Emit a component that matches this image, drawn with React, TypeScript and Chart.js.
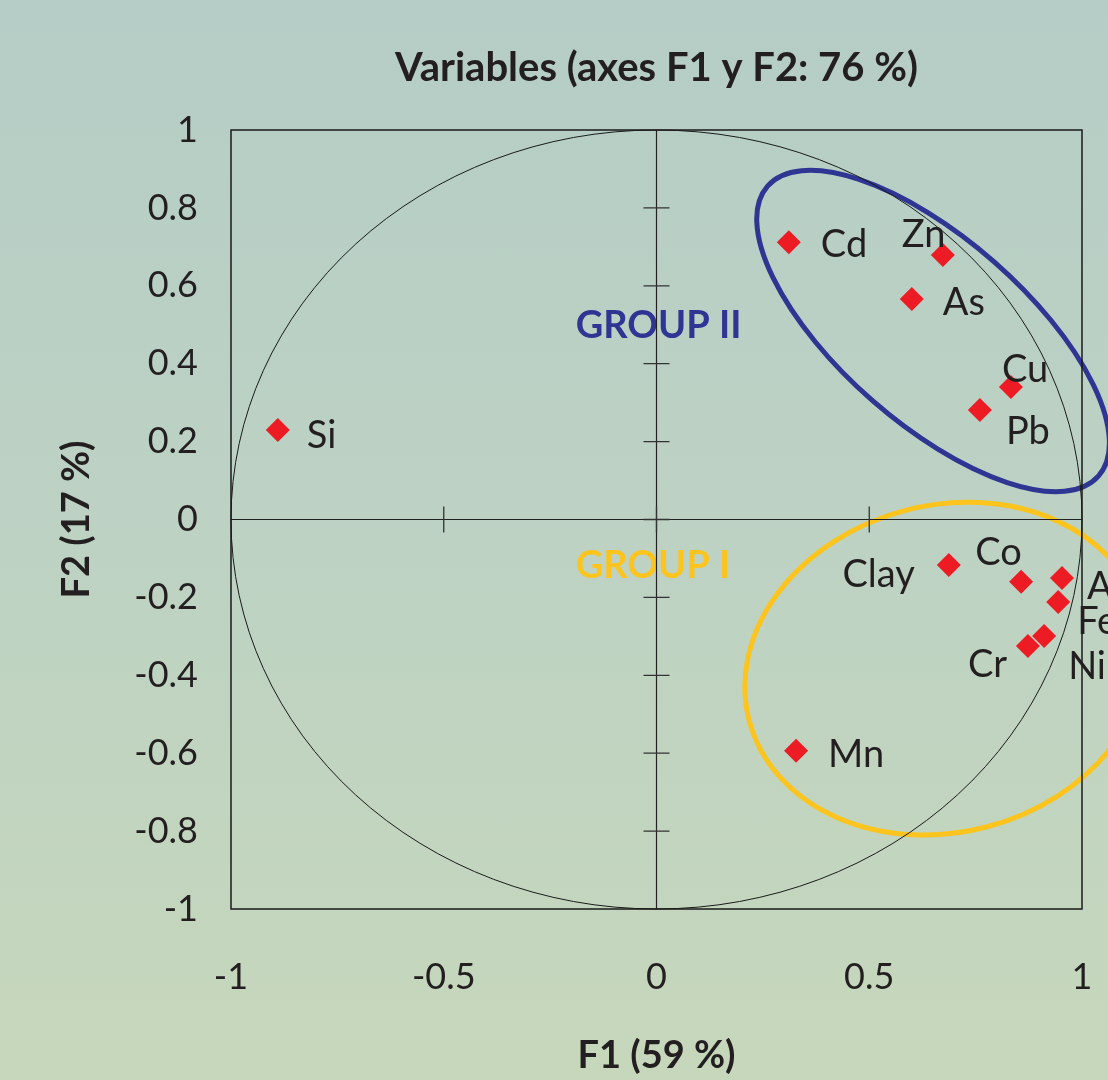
import React, { useEffect, useRef } from "react";
import { Chart, registerables } from "chart.js";

Chart.register(...registerables);

const variables = ["Si", "Cd", "Zn", "As", "Cu", "Pb", "Clay", "Co", "Al", "Fe", "Ni", "Cr", "Mn"];
const f1Values = [-0.89, 0.311, 0.673, 0.6, 0.833, 0.76, 0.687, 0.857, 0.953, 0.944, 0.911, 0.873, 0.328];
const f2Values = [0.23, 0.712, 0.679, 0.566, 0.34, 0.281, -0.117, -0.16, -0.15, -0.212, -0.299, -0.325, -0.594];
// label offsets (px) and alignment relative to each point
const labelDx = [29, 32, -41, 31, -9, 26, -34, -46, 25, 19, 24, -60, 32];
const labelDy = [6, 3, -20, 4, -17, 22, 10, -29, 9, 20, 31, 19, 4];
const labelAlign: CanvasTextAlign[] = ["left", "left", "left", "left", "left", "left", "right", "left", "left", "left", "left", "left", "left"];

const xTicks = [-1, -0.5, 0, 0.5, 1];
const yTicks = [-1, -0.8, -0.6, -0.4, -0.2, 0, 0.2, 0.4, 0.6, 0.8, 1];

const groupNames = ["GROUP II", "GROUP I"];
const groupColors = ["#2e3592", "#fcc41c"];
// group label anchor (data coords)
const groupLabelX = [-0.19, -0.19];
const groupLabelY = [0.498, -0.118];
// ellipse centers (data coords), semi-axes in x-axis data units, rotation in degrees
const ellipseCx = [0.65, 0.68];
const ellipseCy = [0.484, -0.383];
const ellipseA = [0.517, 0.478];
const ellipseB = [0.217, 0.384];
const ellipseRot = [41.2, -15];

const FONT = "Lato, 'Open Sans', sans-serif";

export default function App() {
  const ref = useRef<HTMLCanvasElement | null>(null);

  useEffect(() => {
    document.body.style.margin = "0";
    const canvas = ref.current;
    if (!canvas) return;

    const decor = {
      id: "decor",
      beforeDatasetsDraw(chart: any) {
        const { ctx, chartArea: ca, scales } = chart;
        const xs = scales.x;
        const ys = scales.y;
        const x0 = xs.getPixelForValue(0);
        const y0 = ys.getPixelForValue(0);
        const ux = xs.getPixelForValue(1) - x0;
        const uy = y0 - ys.getPixelForValue(1);
        ctx.save();
        // group labels
        ctx.font = `bold 38px ${FONT}`;
        ctx.textAlign = "left";
        ctx.textBaseline = "middle";
        for (let i = 0; i < groupNames.length; i++) {
          ctx.fillStyle = groupColors[i];
          ctx.fillText(groupNames[i], xs.getPixelForValue(groupLabelX[i]), ys.getPixelForValue(groupLabelY[i]));
        }
        // ellipses
        for (let i = 0; i < ellipseCx.length; i++) {
          ctx.beginPath();
          ctx.ellipse(
            xs.getPixelForValue(ellipseCx[i]),
            ys.getPixelForValue(ellipseCy[i]),
            ellipseA[i] * ux,
            ellipseB[i] * ux,
            (ellipseRot[i] * Math.PI) / 180,
            0,
            Math.PI * 2
          );
          ctx.strokeStyle = groupColors[i];
          ctx.lineWidth = 5;
          ctx.stroke();
        }
        // correlation circle
        ctx.beginPath();
        ctx.ellipse(x0, y0, ux, uy, 0, 0, Math.PI * 2);
        ctx.strokeStyle = "#1a1a1a";
        ctx.lineWidth = 1;
        ctx.stroke();
        // central axes
        ctx.strokeStyle = "#222";
        ctx.lineWidth = 1.2;
        ctx.beginPath();
        ctx.moveTo(ca.left, y0);
        ctx.lineTo(ca.right, y0);
        ctx.moveTo(x0, ca.top);
        ctx.lineTo(x0, ca.bottom);
        ctx.stroke();
        ctx.strokeStyle = "#333";
        ctx.lineWidth = 1.3;
        ctx.beginPath();
        for (const v of yTicks) {
          if (Math.abs(v) === 1) continue;
          const py = ys.getPixelForValue(v);
          ctx.moveTo(x0 - 13, py);
          ctx.lineTo(x0 + 13, py);
        }
        for (const v of xTicks) {
          if (Math.abs(v) === 1) continue;
          const px = xs.getPixelForValue(v);
          ctx.moveTo(px, y0 - 13);
          ctx.lineTo(px, y0 + 13);
        }
        ctx.stroke();
        // frame
        ctx.strokeStyle = "#1a1a1a";
        ctx.lineWidth = 1.5;
        ctx.strokeRect(ca.left, ca.top, ca.right - ca.left, ca.bottom - ca.top);
        ctx.restore();
      },
      afterDatasetsDraw(chart: any) {
        const { ctx, scales } = chart;
        const xs = scales.x;
        const ys = scales.y;
        ctx.save();
        ctx.font = `38px ${FONT}`;
        ctx.fillStyle = "#231f20";
        ctx.textBaseline = "middle";
        for (let i = 0; i < variables.length; i++) {
          ctx.textAlign = labelAlign[i];
          ctx.fillText(
            variables[i],
            xs.getPixelForValue(f1Values[i]) + labelDx[i],
            ys.getPixelForValue(f2Values[i]) + labelDy[i]
          );
        }
        ctx.restore();
      },
    };

    const fmt = (v: any) => String(Number(Number(v).toFixed(2)));

    const chart = new Chart(canvas, {
      type: "scatter",
      data: {
        datasets: [
          {
            label: "Variables",
            data: f1Values.map((x, i) => ({ x, y: f2Values[i] })),
            pointStyle: "rectRot",
            pointRadius: 12,
            pointHoverRadius: 12,
            backgroundColor: "#ed1c24",
            borderColor: "#ed1c24",
            borderWidth: 0,
          },
        ],
      },
      options: {
        responsive: false,
        animation: false,
        devicePixelRatio: 1,
        layout: { padding: { top: 0, left: 0, right: 26, bottom: 0 } },
        plugins: {
          legend: { display: false },
          tooltip: { enabled: false },
          title: {
            display: true,
            fullSize: false,
            text: "Variables (axes F1 y F2: 76 %)",
            color: "#231f20",
            font: { family: FONT, size: 40, weight: "bold" },
            padding: { top: 44, bottom: 38 },
          },
        },
        scales: {
          x: {
            type: "linear",
            min: -1,
            max: 1,
            afterBuildTicks: (s: any) => {
              s.ticks = xTicks.map((v) => ({ value: v }));
            },
            ticks: {
              color: "#231f20",
              font: { family: FONT, size: 36 },
              padding: 47,
              callback: fmt,
            },
            grid: { display: false, drawTicks: false },
            border: { display: false },
            title: {
              display: true,
              text: "F1 (59 %)",
              color: "#231f20",
              font: { family: FONT, size: 38, weight: "bold" },
              padding: { top: 0, bottom: 1 },
            },
            afterFit: (s: any) => {
              s.height = 171;
              s.paddingLeft = 0;
              s.paddingRight = 0;
            },
          },
          y: {
            type: "linear",
            min: -1,
            max: 1,
            afterBuildTicks: (s: any) => {
              s.ticks = yTicks.map((v) => ({ value: v }));
            },
            ticks: {
              color: "#231f20",
              font: { family: FONT, size: 36 },
              padding: 33,
              callback: fmt,
            },
            grid: { display: false, drawTicks: false },
            border: { display: false },
            title: {
              display: true,
              text: "F2 (17 %)",
              color: "#231f20",
              font: { family: FONT, size: 38, weight: "bold" },
              padding: { top: 54, bottom: 0 },
            },
            afterFit: (s: any) => {
              s.width = 231;
              s.paddingTop = 0;
              s.paddingBottom = 0;
            },
          },
        },
      },
      plugins: [decor],
    });
    return () => chart.destroy();
  }, []);

  return (
    <div
      style={{
        position: "absolute",
        left: 0,
        top: 0,
        width: 1108,
        height: 1080,
        overflow: "hidden",
        background: "linear-gradient(to bottom, #b5cdc6 0%, #bdd2c3 50%, #c6d7bb 100%)",
      }}
    >
      <canvas ref={ref} width={1108} height={1080} style={{ width: 1108, height: 1080, display: "block" }} />
    </div>
  );
}
